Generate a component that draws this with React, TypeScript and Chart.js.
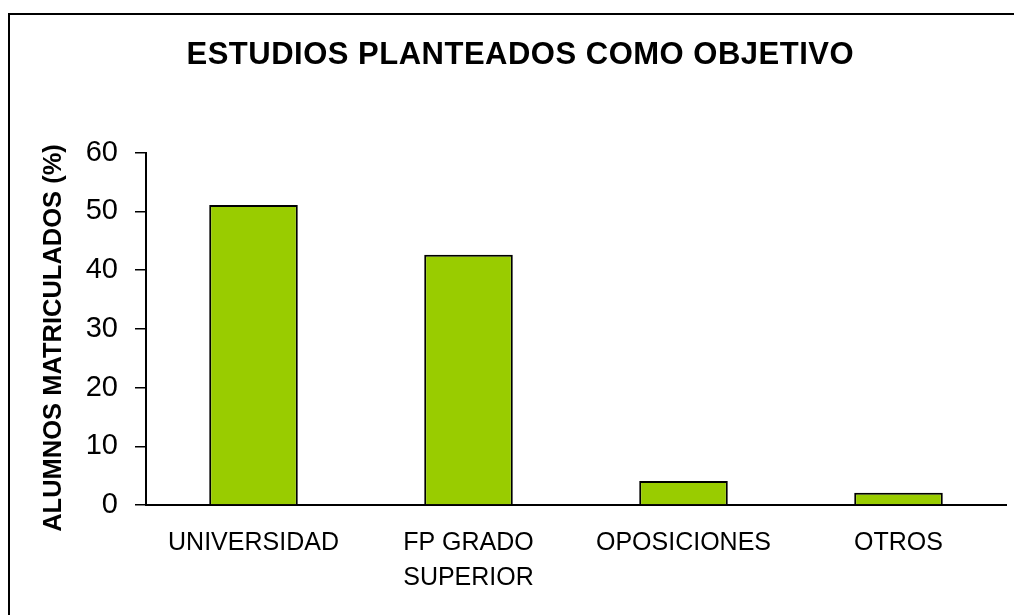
import React, { useEffect, useRef } from "react";
import { Chart, registerables } from "chart.js";

Chart.register(...registerables);

const titleText = "ESTUDIOS PLANTEADOS COMO OBJETIVO";
const yAxisTitle = "ALUMNOS MATRICULADOS (%)";
const categories: (string | string[])[] = ["UNIVERSIDAD", ["FP GRADO", "SUPERIOR"], "OPOSICIONES", "OTROS"];
const values = [51.1, 42.6, 4.1, 2.1];
const yMin = 0;
const yMax = 60;
const yStep = 10;

const FONT = "'Liberation Sans', Arial, sans-serif";

const decorPlugin = {
  id: "decor",
  beforeDraw(chart: any) {
    const ctx = chart.ctx;
    ctx.save();
    ctx.fillStyle = "#ffffff";
    ctx.fillRect(0, 0, chart.width, chart.height);
    ctx.strokeStyle = "#000000";
    ctx.lineWidth = 2;
    ctx.beginPath();
    ctx.moveTo(9, chart.height + 5);
    ctx.lineTo(9, 14);
    ctx.lineTo(chart.width + 5, 14);
    ctx.stroke();
    ctx.restore();
  },
  afterDraw(chart: any) {
    const ctx = chart.ctx;
    ctx.save();
    ctx.fillStyle = "#000000";
    ctx.font = `bold 31px ${FONT}`;
    ctx.textAlign = "center";
    ctx.textBaseline = "middle";
    try {
      (ctx as any).letterSpacing = "0.5px";
    } catch (e) {}
    ctx.fillText(titleText, 520.3, 55);
    try {
      (ctx as any).letterSpacing = "0px";
    } catch (e) {}
    ctx.translate(53.5, 338);
    ctx.rotate(-Math.PI / 2);
    ctx.font = `bold 25.5px ${FONT}`;
    ctx.fillText(yAxisTitle, 0, 0);
    ctx.restore();
  },
};

export default function App() {
  const ref = useRef<HTMLCanvasElement>(null);
  useEffect(() => {
    if (!ref.current) return;
    const chart = new Chart(ref.current, {
      type: "bar",
      data: {
        labels: categories,
        datasets: [
          {
            data: values,
            backgroundColor: "#99cc00",
            borderColor: "#000000",
            borderWidth: 2,
            barPercentage: 0.412,
            categoryPercentage: 1,
          },
        ],
      },
      options: {
        responsive: false,
        animation: false,
        devicePixelRatio: 1,
        layout: { padding: { top: 152.7, right: 8, bottom: 0, left: 0 } },
        plugins: {
          legend: { display: false },
          title: { display: false },
          tooltip: { enabled: false },
        },
        scales: {
          x: {
            afterFit: (s: any) => {
              s.height = 110;
            },
            grid: { display: false, drawTicks: false },
            border: { display: true, color: "#000000", width: 2 },
            ticks: {
              color: "#000000",
              padding: 20.5,
              maxRotation: 0,
              autoSkip: false,
              font: { family: FONT, size: 25, lineHeight: 1.4 },
            },
          },
          y: {
            min: yMin,
            max: yMax,
            afterFit: (s: any) => {
              s.width = 146;
            },
            grid: {
              display: true,
              drawOnChartArea: false,
              drawTicks: true,
              tickLength: 11,
              color: "#000000",
              lineWidth: 1.5,
            },
            border: { display: true, color: "#000000", width: 2 },
            ticks: {
              stepSize: yStep,
              color: "#000000",
              padding: 17,
              font: { family: FONT, size: 29 },
            },
          },
        },
      },
      plugins: [decorPlugin],
    });
    return () => chart.destroy();
  }, []);
  return (
    <div style={{ position: "absolute", left: 0, top: 0, width: 1014, height: 615 }}>
      <canvas ref={ref} width={1014} height={615} style={{ display: "block" }} />
    </div>
  );
}
